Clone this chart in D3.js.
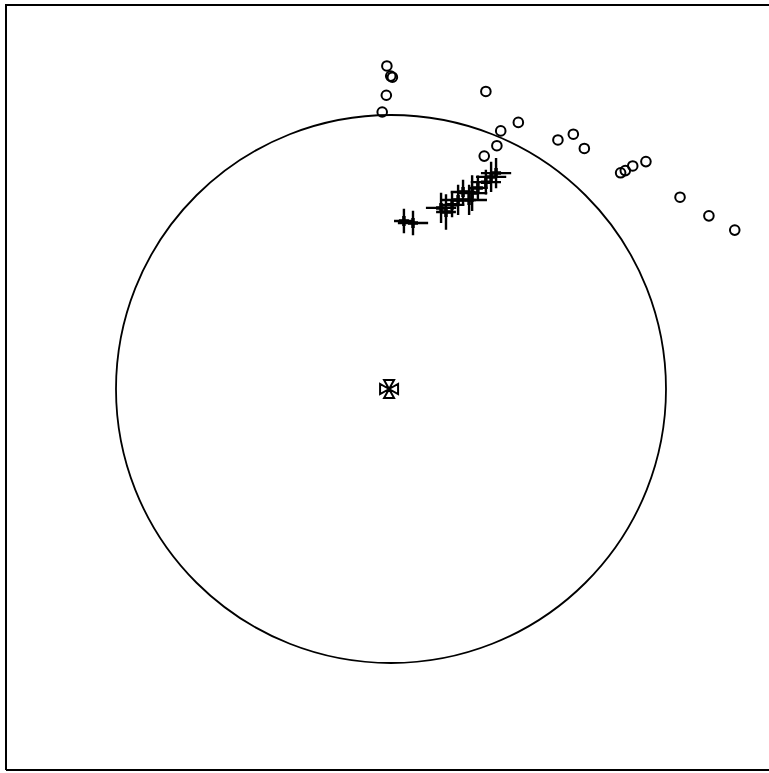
<!DOCTYPE html>
<html><head><meta charset="utf-8">
<script src="https://cdn.jsdelivr.net/npm/d3@7"></script>
<style>html,body{margin:0;padding:0;background:#fff;}</style>
</head><body>
<svg id="chart" width="769" height="773"></svg>
<script>
// Open circles (unit-circle coordinates)
const circleX = [-0.015,-0.001,0.005,-0.017,-0.032,0.345,0.463,0.399,0.385,0.339,0.607,0.663,0.703,0.835,0.852,0.879,0.927,1.051,1.156,1.250];
const circleY = [1.179,1.142,1.138,1.072,1.011,1.086,0.973,0.942,0.888,0.850,0.909,0.930,0.878,0.789,0.797,0.814,0.830,0.700,0.632,0.580];
// Crosses with error bars
const crossX  = [0.047,0.080,0.182,0.200,0.222,0.244,0.262,0.284,0.295,0.316,0.345,0.364,0.382];
const crossY  = [0.613,0.606,0.661,0.646,0.672,0.690,0.719,0.690,0.715,0.734,0.755,0.774,0.788];
const crossEX = [0.036,0.055,0.055,0.036,0.045,0.065,0.045,0.065,0.055,0.036,0.055,0.055,0.055];
const crossEY = [0.045,0.045,0.055,0.065,0.045,0.055,0.045,0.055,0.065,0.045,0.045,0.055,0.055];
// Centre marker
const centreX = [-0.007];
const centreY = [0];
const circleRadius = 1;

const svg = d3.select("#chart");
const x = d3.scaleLinear().domain([-1, 1]).range([116, 666]);
const y = d3.scaleLinear().domain([-1, 1]).range([663, 115]);

// frame (left, top, bottom)
svg.append("path").attr("d","M6,770 L6,5 L769,5 M6,770 L769,770")
  .attr("fill","none").attr("stroke","#000").attr("stroke-width",2);

// unit circle
svg.append("ellipse")
  .attr("cx", x(0)).attr("cy", y(0))
  .attr("rx", x(circleRadius) - x(0)).attr("ry", y(0) - y(circleRadius))
  .attr("fill","none").attr("stroke","#000").attr("stroke-width",1.8);

// open circles
svg.append("g").selectAll("circle").data(circleX.map((d,i)=>({x:d,y:circleY[i]})))
  .join("circle")
  .attr("cx", d=>x(d.x)).attr("cy", d=>y(d.y)).attr("r",4.8)
  .attr("fill","none").attr("stroke","#000").attr("stroke-width",2);

// crosses with error bars
const cd = crossX.map((d,i)=>({x:d,y:crossY[i],ex:crossEX[i],ey:crossEY[i]}));
const cg = svg.append("g").attr("stroke","#000").attr("stroke-width",2.4).attr("fill","none");
cg.selectAll("path.eb").data(cd).join("path").attr("class","eb")
  .attr("d", d=>`M${x(d.x-d.ex)},${y(d.y)} L${x(d.x+d.ex)},${y(d.y)} M${x(d.x)},${y(d.y-d.ey)} L${x(d.x)},${y(d.y+d.ey)}`);
cg.selectAll("path.pt").data(cd).join("path").attr("class","pt")
  .attr("stroke-width",3.5)
  .attr("d", d=>`M${x(d.x)-5},${y(d.y)} L${x(d.x)+5},${y(d.y)} M${x(d.x)},${y(d.y)-5} L${x(d.x)},${y(d.y)+5}`);

// centre symbol: four triangles meeting at centre
const cs = svg.append("g").attr("stroke","#000").attr("stroke-width",2).attr("fill","none");
centreX.forEach((cx0,i)=>{
  const cx = x(cx0), cy = y(centreY[i]), s = 9, w = 5;
  const d = `M${cx},${cy} L${cx-w},${cy-s} L${cx+w},${cy-s} Z`+
            `M${cx},${cy} L${cx-w},${cy+s} L${cx+w},${cy+s} Z`+
            `M${cx},${cy} L${cx-s},${cy-w} L${cx-s},${cy+w} Z`+
            `M${cx},${cy} L${cx+s},${cy-w} L${cx+s},${cy+w} Z`;
  cs.append("path").attr("d", d);
});
</script>
</body></html>
